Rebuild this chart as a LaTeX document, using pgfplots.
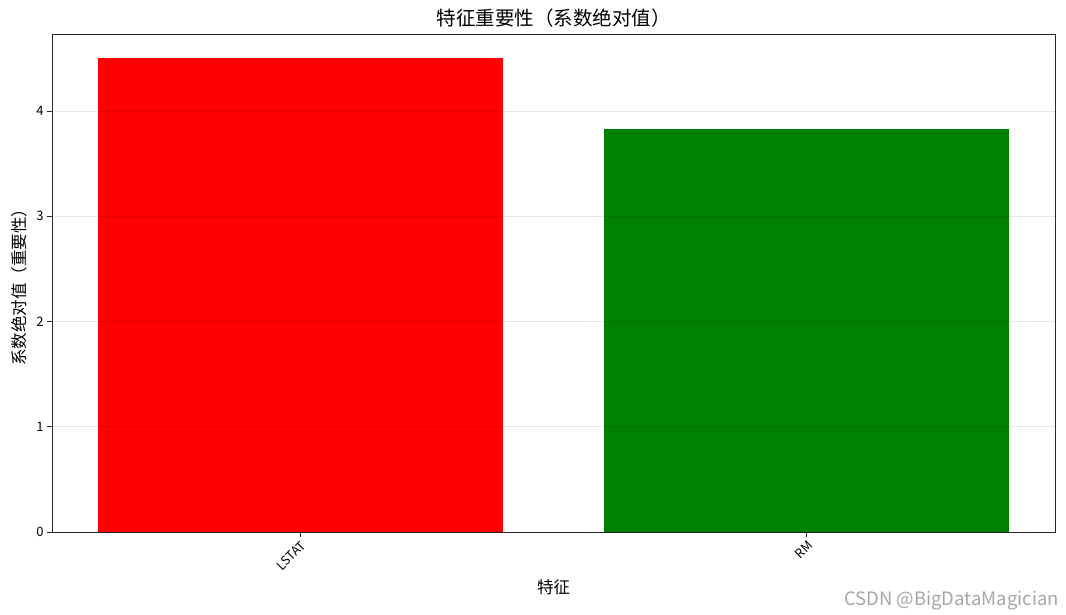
\documentclass[border=0pt]{standalone}
\usepackage{pgfplots}
\pgfplotsset{compat=1.18}
\usepackage{fontspec}
\setmainfont{Noto Sans CJK SC}
\usetikzlibrary{calc}

\begin{document}
\begin{tikzpicture}
\begin{axis}[
    name=ax,
    scale only axis,
    width=1003pt, height=498pt,
    xmin=-0.49, xmax=1.49,
    ymin=0, ymax=4.733,
    xtick={0,1},
    xticklabels={LSTAT,RM},
    x tick label style={rotate=45, anchor=north east, font=\fontsize{12.5}{13}\selectfont, inner sep=2pt},
    y tick label style={font=\fontsize{13}{14}\selectfont},
    ytick={0,1,2,3,4},
    /pgf/number format/assume math mode=true,
    tick align=outside,
    tick pos=left,
    major tick length=5pt,
    ymajorgrids,
    major grid style={black, opacity=0.09, line width=0.8pt},
    axis on top,
    axis line style={black!85, line width=0.9pt},
    every tick/.style={black!85, line width=0.8pt},
    title={特征重要性（系数绝对值）},
    title style={font=\fontsize{19.5}{20}\selectfont, yshift=-3pt},
    xlabel={特征},
    xlabel style={font=\fontsize{16.5}{17}\selectfont, yshift=-2pt},
    ylabel={系数绝对值（重要性）},
    ylabel style={font=\fontsize{16.5}{17}\selectfont, yshift=2pt},
    ybar, bar width=0.8, bar shift=0pt,
]
\addplot[fill=red, draw=none] coordinates {(0,4.505)};
\addplot[fill={rgb,255:red,0;green,128;blue,0}, draw=none] coordinates {(1,3.83)};
\end{axis}
\node[anchor=south east, text=black!35, font=\fontsize{18.5}{19}\selectfont, inner sep=1pt] at ($(ax.south east)+(5pt,-79pt)$) {CSDN @BigDataMagician};
\path[use as bounding box] ($(ax.south west)+(-52pt,-82pt)$) rectangle ($(ax.north east)+(11pt,34pt)$);
\end{tikzpicture}
\end{document}
